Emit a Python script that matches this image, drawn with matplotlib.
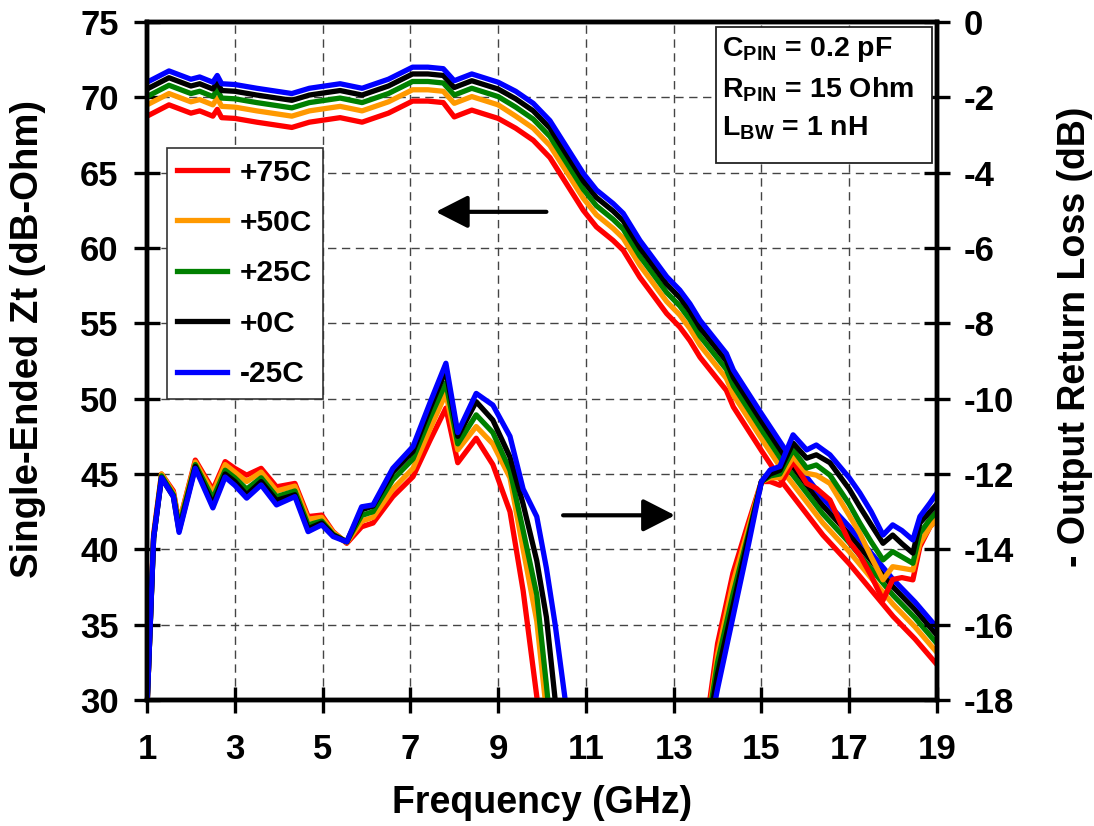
# Zt and output return loss vs frequency over temperature
import matplotlib
matplotlib.use('Agg')
import matplotlib.pyplot as plt
from matplotlib.patches import Rectangle
import numpy as np

plt.rcParams['font.family'] = 'Liberation Sans'
plt.rcParams['font.weight'] = 'bold'
plt.rcParams['axes.labelweight'] = 'bold'
plt.rcParams['axes.unicode_minus'] = False
plt.rcParams['mathtext.fontset'] = 'custom'
plt.rcParams['mathtext.bf'] = 'Liberation Sans:bold'
plt.rcParams['mathtext.rm'] = 'Liberation Sans:bold'

nan = np.nan

labels = ['+75C', '+50C', '+25C', '+0C', '-25C']
colors = ['#ff0000', '#ff9900', '#008000', '#000000', '#0000ff']

# transimpedance (dB-Ohm), left axis
zt_freq = [1.0, 1.5, 2.0, 2.2, 2.5, 2.6, 2.7, 3.0, 3.5, 4.3, 4.7, 5.4, 5.9, 6.5, 7.05, 7.4, 7.75,
           8.0, 8.4, 9.0, 9.4, 9.8, 10.18, 10.94, 11.24, 11.62, 11.85, 12.23, 12.46, 12.84,
           13.14, 13.37, 13.6, 13.9, 14.2, 14.36, 15.0, 15.5, 16.4, 17.0, 17.6, 18.0, 18.5, 19.0]
zt_p75 = [68.75, 69.5, 68.95, 69.1, 68.75, 69.2, 68.65, 68.6, 68.35, 68.0, 68.35, 68.65, 68.35,
          68.95, 69.75, 69.75, 69.65, 68.7, 69.15, 68.6, 67.95, 67.15, 66.0, 62.5, 61.4, 60.5,
          59.85, 58.05, 57.15, 55.65, 54.75, 53.85, 52.75, 51.65, 50.55, 49.45, 46.55, 44.35,
          40.95, 39.05, 36.95, 35.55, 34.05, 32.35]
zt_p50 = [69.5, 70.25, 69.7, 69.85, 69.5, 69.95, 69.4, 69.35, 69.1, 68.75, 69.1, 69.4, 69.1,
          69.7, 70.5, 70.5, 70.4, 69.6, 70.05, 69.5, 68.75, 67.95, 66.8, 63.3, 62.2, 61.3,
          60.65, 58.85, 57.95, 56.45, 55.55, 54.65, 53.55, 52.45, 51.35, 50.25, 47.35, 45.15,
          41.75, 39.85, 37.75, 36.35, 34.85, 33.15]
zt_p25 = [70.05, 70.8, 70.25, 70.4, 70.05, 70.5, 69.95, 69.9, 69.65, 69.3, 69.65, 69.95, 69.65,
          70.25, 71.05, 71.05, 70.95, 70.15, 70.6, 70.05, 69.35, 68.55, 67.4, 63.9, 62.8, 61.9,
          61.25, 59.45, 58.55, 57.05, 56.15, 55.25, 54.15, 53.05, 51.95, 50.85, 47.95, 45.75,
          42.35, 40.45, 38.35, 36.95, 35.45, 33.75]
zt_p0 = [70.55, 71.3, 70.75, 70.9, 70.55, 71.0, 70.45, 70.4, 70.15, 69.8, 70.15, 70.45, 70.15,
         70.75, 71.55, 71.55, 71.45, 70.65, 71.1, 70.55, 69.9, 69.1, 67.95, 64.45, 63.35, 62.45,
         61.8, 60.0, 59.1, 57.6, 56.7, 55.8, 54.7, 53.6, 52.5, 51.4, 48.5, 46.3, 42.9, 41.0,
         38.9, 37.5, 36.0, 34.3]
zt_m25 = [71.0, 71.75, 71.2, 71.35, 71.0, 71.45, 70.9, 70.85, 70.6, 70.25, 70.6, 70.9, 70.6,
          71.2, 72.0, 72.0, 71.9, 71.1, 71.55, 71.0, 70.4, 69.6, 68.45, 64.95, 63.85, 62.95,
          62.3, 60.5, 59.6, 58.1, 57.2, 56.3, 55.2, 54.1, 53.0, 51.9, 49.0, 46.8, 43.4, 41.5,
          39.4, 38.0, 36.5, 34.8]

# -output return loss (dB), right axis, low band
rl_lo_freq = [1.0, 1.15, 1.33, 1.6, 1.73, 2.1, 2.5, 2.78, 3.0, 3.27, 3.6, 3.95, 4.37, 4.67, 4.98,
              5.24, 5.55, 5.89, 6.15, 6.6, 7.06, 7.45, 7.81, 8.08, 8.5, 8.88, 9.27, 9.57, 9.88,
              10.1, 10.3, 10.5, 10.7]
rl_lo_p75 = [-18.2, -13.6, -12.0, -12.45, -13.3, -11.63, -12.42, -11.67, -11.85, -12.03, -11.85,
             -12.34, -12.25, -13.13, -13.09, -13.53, -13.84, -13.4, -13.3, -12.6, -12.07, -11.1,
             -10.25, -11.7, -11.05, -11.75, -13.0, -15.1, -17.9, -20.0, nan, nan, nan]
rl_lo_p50 = [-18.2, -13.65, -12.0, -12.5, -13.3, -11.68, -12.5, -11.75, -11.95, -12.2, -11.95,
             -12.45, -12.32, -13.2, -13.15, -13.55, -13.82, -13.25, -13.15, -12.4, -11.85, -10.8,
             -9.86, -11.36, -10.74, -11.2, -12.1, -14.0, -15.9, -18.3, -20.0, nan, nan]
rl_lo_p25 = [-18.2, -13.7, -12.05, -12.55, -13.4, -11.75, -12.65, -11.9, -12.1, -12.4, -12.1,
             -12.6, -12.45, -13.35, -13.25, -13.6, -13.8, -13.1, -13.0, -12.15, -11.6, -10.5,
             -9.58, -11.2, -10.43, -10.9, -11.9, -13.5, -15.2, -17.6, -20.0, nan, nan]
rl_lo_p0 = [-18.2, -13.7, -12.1, -12.6, -13.5, -11.8, -12.8, -12.0, -12.2, -12.55, -12.2,
            -12.7, -12.55, -13.45, -13.3, -13.62, -13.8, -12.95, -12.85, -11.95, -11.4, -10.25,
            -9.24, -11.0, -10.08, -10.57, -11.55, -12.8, -14.3, -15.8, -18.0, -20.0, nan]
rl_lo_m25 = [-18.2, -13.7, -12.1, -12.6, -13.55, -11.85, -12.9, -12.08, -12.3, -12.64, -12.29,
             -12.82, -12.6, -13.53, -13.35, -13.66, -13.8, -12.87, -12.82, -11.85, -11.27, -10.1,
             -9.06, -10.9, -9.86, -10.17, -11.0, -12.4, -13.13, -14.5, -16.0, -17.75, -19.5]

# high band
rl_hi_freq = [13.8, 14.0, 14.35, 14.7, 15.0, 15.2, 15.42, 15.72, 16.03, 16.25, 16.56, 17.0, 17.24,
              17.5, 17.77, 17.99, 18.2, 18.45, 18.61, 18.84, 19.0]
rl_hi_p75 = [-18.2, -16.5, -14.63, -13.3, -12.2, -12.2, -12.3, -11.67, -12.25, -12.38, -12.69,
             -13.8, -14.15, -14.7, -15.35, -14.8, -14.75, -14.81, -13.93, -13.4, -13.2]
rl_hi_p50 = [-18.4, -16.8, -14.9, -13.45, -12.2, -12.1, -12.1, -11.54, -11.98, -12.03, -12.25,
             -13.1, -13.57, -14.2, -14.81, -14.46, -14.5, -14.55, -13.84, -13.4, -13.2]
rl_hi_p25 = [-18.5, -17.0, -15.2, -13.6, -12.2, -12.05, -12.0, -11.36, -11.84, -11.76, -12.03,
             -12.8, -13.3, -13.8, -14.28, -14.06, -14.2, -14.37, -13.57, -13.2, -13.0]
rl_hi_p0 = [-18.7, -17.3, -15.5, -13.7, -12.2, -12.0, -11.9, -11.18, -11.58, -11.49, -11.7,
            -12.4, -12.87, -13.35, -13.84, -13.62, -13.85, -14.1, -13.3, -13.0, -12.8]
rl_hi_m25 = [-18.9, -17.7, -15.8, -13.9, -12.2, -11.89, -11.8, -10.96, -11.36, -11.23, -11.49,
             -12.1, -12.5, -13.0, -13.62, -13.35, -13.5, -13.75, -13.13, -12.77, -12.5]

zt_all = [zt_p75, zt_p50, zt_p25, zt_p0, zt_m25]
rl_lo_all = [rl_lo_p75, rl_lo_p50, rl_lo_p25, rl_lo_p0, rl_lo_m25]
rl_hi_all = [rl_hi_p75, rl_hi_p50, rl_hi_p25, rl_hi_p0, rl_hi_m25]

LW = 3.8

fig = plt.figure(figsize=(10.94, 8.26), dpi=100)
ax = fig.add_axes([0.1344, 0.1525, 0.7221, 0.8209])
ax2 = ax.twinx()

handles = []
for zt, c, lab in zip(zt_all, colors, labels):
    h, = ax.plot(zt_freq, zt, color=c, lw=LW, label=lab)
    handles.append(h)
for lo, hi, c in zip(rl_lo_all, rl_hi_all, colors):
    ax2.plot(rl_lo_freq, lo, color=c, lw=LW)
    ax2.plot(rl_hi_freq, hi, color=c, lw=LW)

ax.set_xlim(1, 19)
ax.set_ylim(30, 75)
ax2.set_ylim(-18, 0)
ax.set_xticks(range(1, 20, 2))
ax.set_yticks(range(30, 76, 5))
ax2.set_yticks(range(-18, 1, 2))

ax.grid(True, linestyle=(0, (6, 4)), color='#444444', linewidth=1.0)
for a in (ax, ax2):
    for s in a.spines.values():
        s.set_linewidth(3.2)
ax.tick_params(axis='both', direction='inout', length=19, width=2.4, labelsize=25)
ax.tick_params(axis='x', pad=14)
ax.tick_params(axis='y', pad=11)
ax2.tick_params(axis='y', direction='inout', length=19, width=2.4, labelsize=25, pad=10)

ax.set_xlabel('Frequency (GHz)', fontsize=27)
ax.xaxis.set_label_coords(0.5, -0.125)
ax.set_ylabel('Single-Ended Zt (dB-Ohm)', fontsize=27.5, va='center', ha='center')
ax.yaxis.set_label_coords(-0.151, 0.532)
ax2.set_ylabel('- Output Return Loss (dB)', fontsize=27, rotation=90, va='center', ha='center')
ax2.yaxis.set_label_coords(1.175, 0.535)

# direction arrows
ax.annotate('', xy=(7.58, 62.4), xytext=(10.1, 62.4),
            arrowprops=dict(arrowstyle='-|>,head_length=0.98,head_width=0.5', lw=3,
                            color='black', mutation_scale=20, shrinkA=0, shrinkB=0))
ax.annotate('', xy=(13.03, 42.26), xytext=(10.48, 42.26),
            arrowprops=dict(arrowstyle='-|>,head_length=0.98,head_width=0.5', lw=3,
                            color='black', mutation_scale=20, shrinkA=0, shrinkB=0))

leg = ax2.legend(handles, labels, loc='upper left', bbox_to_anchor=(0.0253, 0.814),
                 borderaxespad=0, fancybox=False, edgecolor='#333333', framealpha=1,
                 fontsize=21.5, handlelength=1.67, labelspacing=0.75, borderpad=0.35,
                 handletextpad=0.43)
leg.get_frame().set_linewidth(1.2)

# parameter box
ax2.add_patch(Rectangle((0.720, 0.792), 0.2737, 0.2006, transform=ax2.transAxes,
                        facecolor='white', edgecolor='#222222', lw=1.3, zorder=5))
params = [r'$\mathbf{C_{PIN}}$ = 0.2 pF', r'$\mathbf{R_{PIN}}$ = 15 Ohm', r'$\mathbf{L_{BW}}$ = 1 nH']
for txt, yy in zip(params, [0.950, 0.889, 0.832]):
    ax2.text(0.728, yy, txt, transform=ax2.transAxes, fontsize=20.5, va='baseline',
             ha='left', zorder=6)

fig.savefig('out.png', dpi=100)
